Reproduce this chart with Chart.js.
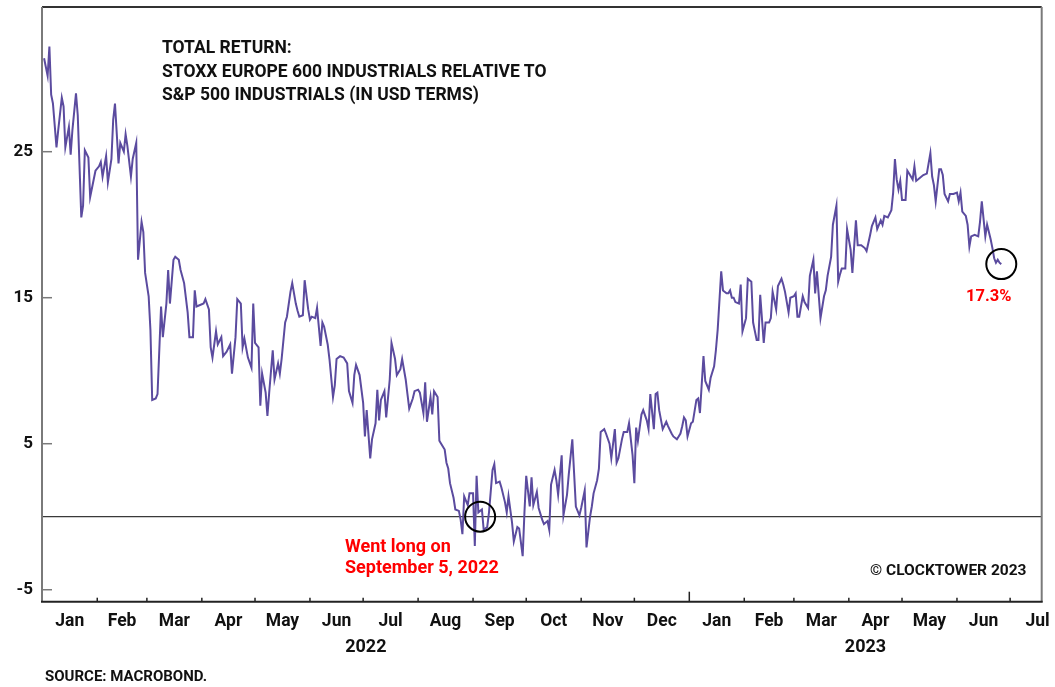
<!DOCTYPE html>
<html><head><meta charset="utf-8">
<script src="https://cdn.jsdelivr.net/npm/chart.js@4.4.0/dist/chart.umd.min.js"></script>
<style>
html,body{margin:0;padding:0;background:#fff;}
#wrap{position:relative;width:1055px;height:687px;overflow:hidden;font-family:Roboto,'Liberation Sans',sans-serif;font-weight:700;color:#111;}
canvas{position:absolute;left:0;top:0;}
.t{position:absolute;white-space:nowrap;}
</style></head><body>
<div id="wrap">
<canvas id="c" width="1055" height="687"></canvas>
<div class="t" style="left:162px;top:36px;font-size:17.5px;line-height:23.5px;">TOTAL RETURN:<br>STOXX EUROPE 600 INDUSTRIALS RELATIVE TO<br>S&amp;P 500 INDUSTRIALS (IN USD TERMS)</div>
<div class="t" style="left:345px;top:535px;font-size:18px;line-height:21px;color:#ff0000;">Went long on<br>September 5, 2022</div>
<div class="t" style="left:966px;top:286px;font-size:16.5px;line-height:20px;color:#ff0000;">17.3%</div>
<div class="t" style="left:870px;top:561px;font-size:15.5px;line-height:18px;">© CLOCKTOWER 2023</div>
<div class="t" style="left:45px;top:667px;font-size:15px;line-height:18px;">SOURCE: MACROBOND.</div>
</div>
<script>
// ---- data (x = days since 2022-01-01) ----
const startDate = '2022-01-01';
const dayOffsets = [
 1,2,3,4,5,6,8,9,11,12,13,15,16,17,19,20,22,23,24,26,27,29,30,32,33,34,36,37,39,40,41,43,44,46,47,48,50,51,53,54,56,57,58,60,61,62,64,65,67,68,70,71,72,74,75,77,78,80,82,83,85,86,87,
 89,91,92,94,95,96,98,99,101,102,104,106,107,109,110,112,113,114,116,118,119,120,122,123,124,126,127,128,130,131,133,134,135,137,138,140,141,143,144,145,147,148,150,151,152,154,155,157,158,159,161,162,164,165,166,168,170,172,173,175,176,177,
 179,181,182,183,185,186,188,189,190,191,193,194,196,197,199,200,202,203,205,206,207,209,210,212,213,215,216,217,219,220,221,223,224,225,227,228,229,230,232,233,235,236,237,238,240,241,243,244,245,246,248,249,251,252,254,255,256,258,259,261,262,263,265,266,268,269,
 271,272,273,275,276,277,279,280,282,283,285,286,287,289,290,291,293,294,296,297,299,300,301,303,304,306,307,309,310,311,313,314,315,317,318,320,321,323,324,325,327,328,330,331,333,334,335,336,338,339,341,342,343,345,346,347,348,350,352,353,355,356,358,359,
 360,361,362,363,364,366,367,369,370,371,373,374,376,377,379,380,381,383,384,386,387,388,389,390,391,393,394,395,397,398,400,401,403,404,405,407,408,410,411,412,414,415,417,418,419,421,422,424,425,426,427,429,430,432,433,435,436,437,439,441,442,443,445,446,448,449,
 450,451,453,454,456,457,459,460,462,464,465,467,468,470,471,473,474,475,477,479,480,481,482,483,484,485,487,488,489,491,492,493,495,497,499,501,502,503,504,506,507,508,509,511,512,514,516,517,518,519,521,522,523,524,526,528,529,530,532,533,535,536,537,538,539,540,541
];
const relReturn = [
 31.4,30.8,30.2,32.2,28.9,28.3,25.3,26.5,28.7,28.1,25.3,26.7,24.8,26.5,29.0,27.5,20.5,21.3,25.1,24.6,21.9,23.1,23.7,24.0,24.3,23.3,24.7,22.9,24.5,27.2,28.3,24.2,25.6,25.0,26.2,25.4,23.3,24.5,25.6,17.6,20.2,19.5,16.7,15.1,12.8,8.0,8.1,8.4,14.4,12.3,14.6,16.9,14.6,17.6,17.8,17.6,16.9,16.0,14.0,12.3,12.3,15.5,14.4,
 14.5,14.6,14.9,14.2,11.6,10.9,12.7,11.8,12.3,11.0,11.3,11.8,9.8,12.3,14.9,14.6,11.6,12.2,10.9,10.2,14.6,11.9,11.6,7.6,9.8,8.5,6.9,8.5,11.4,9.4,10.5,9.8,10.8,13.3,13.7,15.4,16.0,14.6,14.1,13.7,13.8,16.2,14.2,13.5,13.7,13.6,14.3,11.7,13.3,13.0,11.8,10.8,8.2,9.0,10.8,11.0,10.9,10.5,8.6,7.8,9.7,10.4,
 9.7,7.8,5.5,7.3,4.0,5.3,6.4,8.7,6.6,8.0,8.6,6.8,9.4,11.9,10.8,9.7,10.1,10.8,9.4,8.4,7.4,8.1,8.6,8.7,8.5,7.1,9.2,6.5,8.2,7.0,8.6,8.2,5.2,5.0,4.6,3.7,3.3,2.3,1.3,0.5,0.4,-0.2,-1.2,1.4,0.8,1.6,1.6,-2.0,2.8,0.3,0.5,-0.9,-0.7,0.3,3.2,3.6,2.3,2.4,2.0,1.0,0.3,1.4,-0.4,-1.7,-0.7,-0.8,
 -2.7,0.3,2.8,0.7,2.7,0.8,1.7,0.6,-0.2,-0.5,-0.3,-0.9,2.2,3.2,2.5,1.5,4.2,0.1,1.5,2.9,5.3,3.0,0.7,0.1,0.6,1.8,-2.1,0.0,0.7,1.6,2.5,3.3,5.8,6.0,5.7,5.0,4.0,6.0,3.7,4.0,5.3,5.8,5.8,6.4,4.2,2.3,6.1,5.2,7.0,7.3,6.6,6.0,8.4,6.0,8.4,8.5,7.3,6.0,6.5,6.2,5.7,5.5,5.3,5.5,
 5.7,6.2,6.8,6.6,5.5,6.4,6.5,8.0,8.1,7.1,11.0,9.3,8.7,9.5,10.3,11.4,12.8,16.8,15.5,15.3,15.3,15.5,15.0,15.0,14.7,14.6,15.9,12.7,13.6,16.3,16.1,13.3,12.1,12.1,15.2,11.9,13.3,13.3,13.6,15.4,14.2,15.8,16.3,15.9,15.4,14.0,15.0,15.1,15.3,13.7,13.7,15.1,14.7,14.3,16.5,17.6,15.3,16.8,13.6,15.1,15.5,16.5,17.8,20.0,21.3,16.1,
 16.6,17.0,17.0,19.7,18.3,16.7,20.3,18.6,18.6,18.4,18.2,19.3,19.9,20.5,19.7,20.3,20.0,20.6,20.5,21.0,22.2,24.5,23.1,22.4,23.0,21.7,21.7,23.7,23.5,23.1,24.0,23.0,23.2,23.4,23.5,24.9,23.3,22.7,21.6,23.8,23.8,23.4,22.1,21.6,22.1,22.1,22.2,21.6,22.2,20.9,20.6,20.0,18.5,19.2,19.3,19.2,20.2,21.6,19.2,20.0,19.0,18.4,17.7,17.4,17.6,17.4,17.3
];
const monthStarts = [0,31,59,90,120,151,181,212,243,273,304,334,365,396,424,455,485,516,546,577];
const monthLabels = ['Jan','Feb','Mar','Apr','May','Jun','Jul','Aug','Sep','Oct','Nov','Dec','Jan','Feb','Mar','Apr','May','Jun','Jul'];
const yearStarts = [0,365];
const yearLabels = ['2022','2023'];
const yTicks = [-5,5,15,25];
const markers = [{day:247, value:0}, {day:541, value:17.3}];
const xMin = -0.17, xMax = 563.8, yMin = -5.82, yMax = 34.91;

const monthMids = monthLabels.map((_, i) => (monthStarts[i] + monthStarts[i+1]) / 2);
const yearMids = [(yearStarts[0] + yearStarts[1]) / 2, (yearStarts[1] + xMax) / 2];
const points = dayOffsets.map((d, i) => ({x: d, y: relReturn[i]}));

const FAM = "Roboto, 'Liberation Sans', sans-serif";
const MONTH_FONT = {family: FAM, size: 17.5, weight: 'bold'};
const YEAR_FONT = {family: FAM, size: 18, weight: 'bold'};
const Y_FONT = {family: FAM, size: 17, weight: 'bold'};

const decor = {
  id: 'decor',
  beforeDatasetsDraw(chart) {
    const {ctx, chartArea: a, scales: {y}} = chart;
    const yz = y.getPixelForValue(0);
    ctx.save();
    ctx.strokeStyle = '#3a3a3a'; ctx.lineWidth = 1.3;
    ctx.beginPath(); ctx.moveTo(a.left, yz); ctx.lineTo(a.right, yz); ctx.stroke();
    ctx.restore();
  },
  afterDraw(chart) {
    const {ctx, chartArea: a, scales: {x, y}} = chart;
    ctx.save();
    ctx.lineWidth = 2;
    ctx.strokeStyle = '#333';
    ctx.beginPath(); ctx.moveTo(a.left, a.top); ctx.lineTo(a.right, a.top); ctx.stroke();
    ctx.strokeStyle = '#7a7a7a';
    ctx.beginPath(); ctx.moveTo(a.right, a.top); ctx.lineTo(a.right, a.bottom); ctx.stroke();
    ctx.beginPath(); ctx.moveTo(a.left, a.top); ctx.lineTo(a.left, a.bottom); ctx.stroke();
    ctx.lineWidth = 1.5;
    yTicks.forEach(v => {
      const py = y.getPixelForValue(v);
      ctx.beginPath(); ctx.moveTo(a.left, py); ctx.lineTo(a.left + 10, py); ctx.stroke();
    });
    ctx.strokeStyle = '#222';
    monthStarts.forEach(d => {
      if (d <= xMin + 1 || d >= xMax) return;
      const px = x.getPixelForValue(d);
      const len = yearStarts.includes(d) ? 10 : 4;
      ctx.beginPath(); ctx.moveTo(px, a.bottom); ctx.lineTo(px, a.bottom - len); ctx.stroke();
    });
    ctx.lineWidth = 2;
    ctx.beginPath(); ctx.moveTo(a.left - 1, a.bottom); ctx.lineTo(a.right + 1, a.bottom); ctx.stroke();
    ctx.strokeStyle = '#000'; ctx.lineWidth = 2;
    markers.forEach(m => {
      ctx.beginPath();
      ctx.arc(x.getPixelForValue(m.day), y.getPixelForValue(m.value), 15, 0, Math.PI * 2);
      ctx.stroke();
    });
    ctx.restore();
  }
};

new Chart(document.getElementById('c'), {
  type: 'line',
  data: {datasets: [{data: points, borderColor: '#5b4b9f', borderWidth: 2, pointRadius: 0, tension: 0, fill: false}]},
  options: {
    responsive: false, animation: false, devicePixelRatio: 1,
    layout: {padding: {top: 7, right: 13.3, bottom: 32.3, left: 0}},
    plugins: {legend: {display: false}, tooltip: {enabled: false}},
    scales: {
      x: {
        type: 'linear', position: 'bottom', min: xMin, max: xMax,
        grid: {display: false, drawTicks: false}, border: {display: false},
        afterBuildTicks: s => { s.ticks = monthMids.map(v => ({value: v})); },
        afterFit: s => { s.height = 30; s.paddingLeft = 0; s.paddingRight = 0; },
        ticks: {autoSkip: false, maxRotation: 0, minRotation: 0, padding: 9, color: '#111', font: MONTH_FONT,
          callback: (v, i) => monthLabels[i]}
      },
      x2: {
        type: 'linear', position: 'bottom', min: xMin, max: xMax,
        grid: {display: false, drawTicks: false}, border: {display: false},
        afterBuildTicks: s => { s.ticks = yearMids.map(v => ({value: v})); },
        afterFit: s => { s.height = 23; s.paddingLeft = 0; s.paddingRight = 0; },
        ticks: {autoSkip: false, maxRotation: 0, minRotation: 0, padding: 5, color: '#111', font: YEAR_FONT,
          callback: (v, i) => yearLabels[i]}
      },
      y: {
        type: 'linear', min: yMin, max: yMax,
        grid: {display: false, drawTicks: false}, border: {display: false},
        afterBuildTicks: s => { s.ticks = yTicks.map(v => ({value: v})); },
        afterFit: s => { s.width = 42; s.paddingTop = 0; s.paddingBottom = 0; },
        ticks: {padding: 9, color: '#111', font: Y_FONT}
      }
    }
  },
  plugins: [decor]
});
</script>
</body></html>
